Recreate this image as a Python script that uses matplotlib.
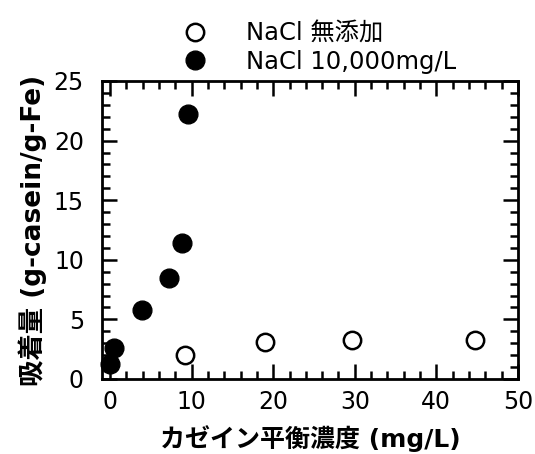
import matplotlib.pyplot as plt
from matplotlib.ticker import MultipleLocator

plt.rcParams['font.family'] = ['DejaVu Sans', 'Noto Sans CJK JP']

# NaCl 無添加
x_open = [9.2, 19.0, 29.7, 44.7]
y_open = [2.0, 3.1, 3.3, 3.3]

# NaCl 10,000mg/L
x_fill = [0.0, 0.5, 3.9, 7.2, 8.8, 9.6]
y_fill = [1.3, 2.6, 5.8, 8.5, 11.4, 22.2]

fig = plt.figure(figsize=(5.35, 4.54), dpi=100)
ax = fig.add_axes([0.1907, 0.1652, 0.7773, 0.6564])

ax.plot(x_open, y_open, 'o', ms=12.5, mfc='white', mec='black', mew=1.8,
        label='NaCl 無添加', clip_on=False)
ax.plot(x_fill, y_fill, 'o', ms=13.5, mfc='black', mec='black',
        label='NaCl 10,000mg/L', clip_on=False)

ax.set_xlim(-1, 50)
ax.set_ylim(0, 25)
ax.xaxis.set_major_locator(MultipleLocator(10))
ax.xaxis.set_minor_locator(MultipleLocator(2))
ax.yaxis.set_major_locator(MultipleLocator(5))
ax.yaxis.set_minor_locator(MultipleLocator(1))
ax.tick_params(which='both', direction='in', top=True, right=True,
               width=1.8, labelsize=17)
ax.tick_params(which='major', length=11)
ax.tick_params(which='minor', length=6)
ax.tick_params(axis='x', which='major', pad=8)
ax.tick_params(axis='y', which='major', pad=13)
for s in ax.spines.values():
    s.set_linewidth(2)

ax.set_xlabel('カゼイン平衡濃度 (mg/L)', fontsize=18, fontweight='bold',
              labelpad=8)
ax.set_ylabel('吸着量 (g-casein/g-Fe)', fontsize=19, fontweight='bold',
              labelpad=5)

fig.legend(loc='upper left', bbox_to_anchor=(0.30, 1.0), frameon=False,
           fontsize=17.5, handletextpad=1.6, labelspacing=0.15,
           handlelength=1.0)

fig.savefig('out.png', dpi=100)
